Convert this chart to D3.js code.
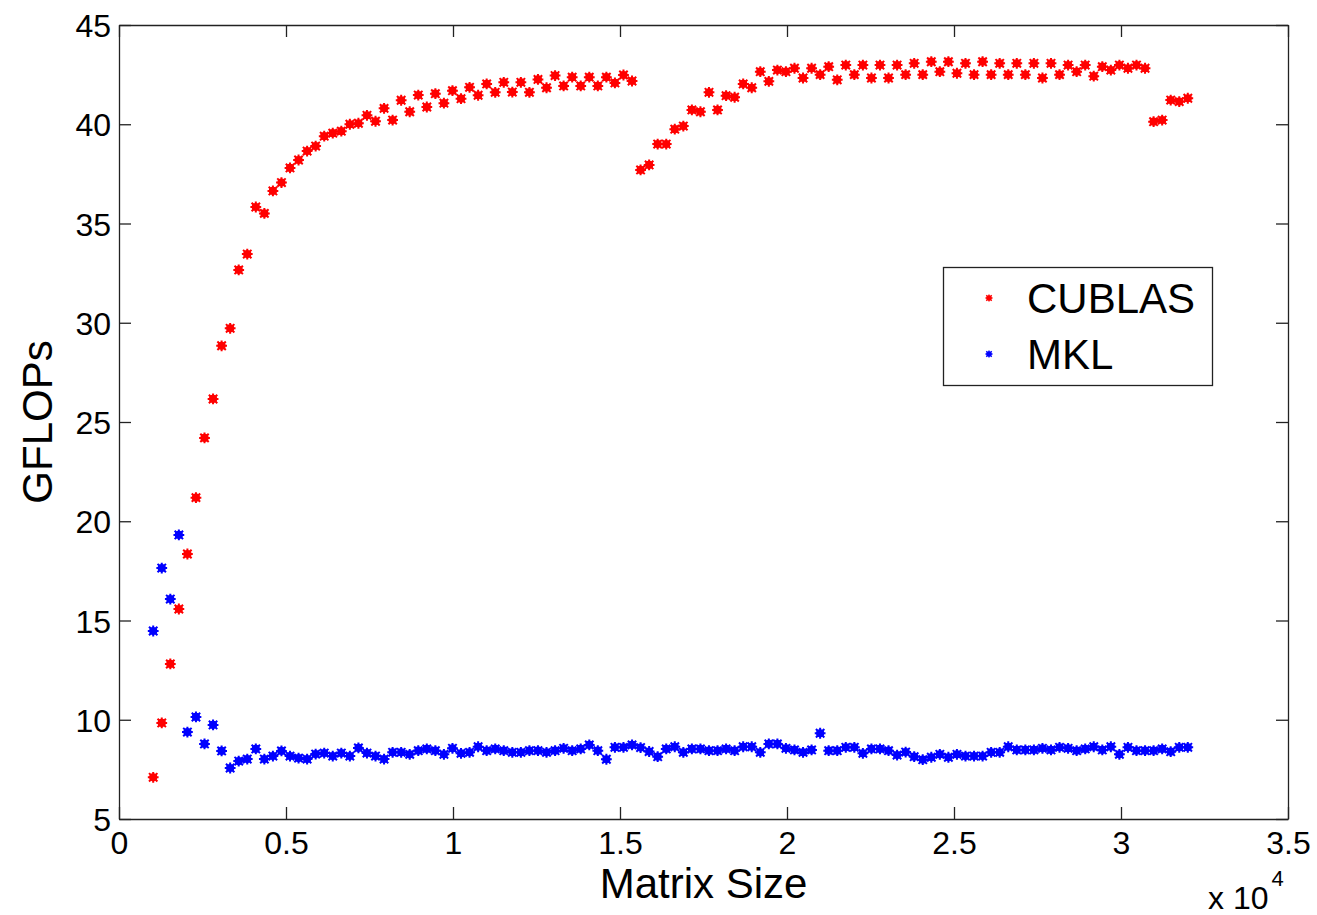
<!DOCTYPE html>
<html>
<head>
<meta charset="utf-8">
<script src="https://cdn.jsdelivr.net/npm/d3@7.9.0/dist/d3.min.js"></script>
<style>
  html, body { margin: 0; padding: 0; background: #fff; }
  svg { display: block; font-family: "Liberation Sans", Arial, sans-serif; }
</style>
</head>
<body>
<svg id="chart" width="1317" height="915"></svg>
<script>
// matrix sizes (N), one sample every 256 from 1024 to 32000
const sizes = [
  1024, 1280, 1536, 1792, 2048, 2304, 2560, 2816, 3072, 3328, 3584, 3840,
  4096, 4352, 4608, 4864, 5120, 5376, 5632, 5888, 6144, 6400, 6656, 6912,
  7168, 7424, 7680, 7936, 8192, 8448, 8704, 8960, 9216, 9472, 9728, 9984,
  10240, 10496, 10752, 11008, 11264, 11520, 11776, 12032, 12288, 12544, 12800, 13056,
  13312, 13568, 13824, 14080, 14336, 14592, 14848, 15104, 15360, 15616, 15872, 16128,
  16384, 16640, 16896, 17152, 17408, 17664, 17920, 18176, 18432, 18688, 18944, 19200,
  19456, 19712, 19968, 20224, 20480, 20736, 20992, 21248, 21504, 21760, 22016, 22272,
  22528, 22784, 23040, 23296, 23552, 23808, 24064, 24320, 24576, 24832, 25088, 25344,
  25600, 25856, 26112, 26368, 26624, 26880, 27136, 27392, 27648, 27904, 28160, 28416,
  28672, 28928, 29184, 29440, 29696, 29952, 30208, 30464, 30720, 30976, 31232, 31488,
  31744, 32000
];

const cublas = [
  7.1, 9.84, 12.81, 15.58, 18.35, 21.19, 24.2, 26.16, 28.84, 29.72, 32.66, 33.46,
  35.83, 35.51, 36.64, 37.06, 37.8, 38.2, 38.65, 38.9, 39.4, 39.55, 39.65, 40.0,
  40.05, 40.45, 40.15, 40.8, 40.21, 41.21, 40.63, 41.47, 40.87, 41.54, 41.06, 41.69,
  41.29, 41.86, 41.46, 42.03, 41.61, 42.11, 41.62, 42.11, 41.61, 42.26, 41.84, 42.45,
  41.93, 42.37, 41.93, 42.37, 41.93, 42.37, 42.08, 42.48, 42.18, 37.7, 37.95, 39.0,
  39.0, 39.75, 39.91, 40.72, 40.63, 41.61, 40.72, 41.44, 41.36, 42.03, 41.84, 42.65,
  42.16, 42.73, 42.65, 42.82, 42.33, 42.82, 42.5, 42.9, 42.24, 42.98, 42.5, 42.98,
  42.33, 42.98, 42.33, 42.98, 42.5, 43.07, 42.5, 43.15, 42.65, 43.15, 42.57, 43.07,
  42.5, 43.15, 42.5, 43.07, 42.5, 43.07, 42.5, 43.07, 42.33, 43.07, 42.5, 42.98,
  42.65, 42.98, 42.42, 42.9, 42.73, 42.98, 42.82, 42.98, 42.82, 40.13, 40.21, 41.22,
  41.14, 41.31
];

const mkl = [
  14.47, 17.64, 16.08, 19.31, 9.38, 10.14, 8.78, 9.74, 8.43, 7.57, 7.92, 8.02,
  8.53, 8.02, 8.17, 8.43, 8.17, 8.07, 8.02, 8.27, 8.32, 8.17, 8.32, 8.17,
  8.58, 8.32, 8.17, 8.02, 8.36, 8.36, 8.26, 8.44, 8.53, 8.44, 8.26, 8.56,
  8.31, 8.36, 8.64, 8.44, 8.53, 8.44, 8.36, 8.36, 8.44, 8.44, 8.36, 8.44,
  8.56, 8.44, 8.53, 8.73, 8.44, 8.01, 8.61, 8.61, 8.73, 8.6, 8.4, 8.14,
  8.53, 8.64, 8.36, 8.53, 8.53, 8.44, 8.44, 8.53, 8.44, 8.64, 8.64, 8.36,
  8.78, 8.78, 8.56, 8.48, 8.36, 8.48, 9.32, 8.44, 8.44, 8.61, 8.61, 8.31,
  8.53, 8.53, 8.44, 8.22, 8.37, 8.14, 7.99, 8.11, 8.26, 8.11, 8.26, 8.17,
  8.17, 8.17, 8.36, 8.36, 8.64, 8.48, 8.48, 8.48, 8.56, 8.48, 8.61, 8.56,
  8.44, 8.53, 8.64, 8.48, 8.64, 8.26, 8.61, 8.44, 8.44, 8.44, 8.53, 8.39,
  8.61, 8.61
];

const xTicks = [0, 5000, 10000, 15000, 20000, 25000, 30000, 35000];
const xTickLabels = ["0", "0.5", "1", "1.5", "2", "2.5", "3", "3.5"];
const yTicks = [5, 10, 15, 20, 25, 30, 35, 40, 45];

const series = [
  { name: "CUBLAS", values: cublas, color: "#ff0000" },
  { name: "MKL", values: mkl, color: "#0000ff" }
];

const margin = { left: 119, right: 29, top: 25, bottom: 96 };
const width = 1317, height = 915;

const svg = d3.select("#chart");

const x = d3.scaleLinear().domain([0, 35000]).range([margin.left, width - margin.right]);
const y = d3.scaleLinear().domain([5, 45]).range([height - margin.bottom, margin.top]);

const axisColor = "#222";
const tickLen = 12;

// MATLAB-style '*' marker: small blob with spikes
function star(g, cx, cy, color, s) {
  const m = g.append("g").attr("transform", `translate(${cx},${cy})`);
  m.append("circle").attr("r", 4.1 * s).attr("fill", color);
  const d = 5.4 * s, e = 4.2 * s;
  const path = `M${-d},0L${d},0M0,${-d}L0,${d}M${-e},${-e}L${e},${e}M${-e},${e}L${e},${-e}`;
  m.append("path").attr("d", path).attr("stroke", color).attr("stroke-width", 2 * s).attr("fill", "none");
}

// points
const plot = svg.append("g");
series.forEach(sr => {
  sr.values.forEach((v, i) => star(plot, x(sizes[i]), y(v), sr.color, 1));
});

// axes frame
const gx = svg.append("g")
  .attr("transform", `translate(0,${y(5)})`)
  .call(d3.axisBottom(x).tickValues(xTicks).tickFormat((d, i) => xTickLabels[i]).tickSizeInner(-tickLen).tickSizeOuter(0));
const gy = svg.append("g")
  .attr("transform", `translate(${x(0)},0)`)
  .call(d3.axisLeft(y).tickValues(yTicks).tickSizeInner(-tickLen).tickSizeOuter(0));
const gxTop = svg.append("g")
  .attr("transform", `translate(0,${y(45)})`)
  .call(d3.axisTop(x).tickValues(xTicks).tickFormat("").tickSizeInner(-tickLen).tickSizeOuter(0));
const gyRight = svg.append("g")
  .attr("transform", `translate(${x(35000)},0)`)
  .call(d3.axisRight(y).tickValues(yTicks).tickFormat("").tickSizeInner(-tickLen).tickSizeOuter(0));

[gx, gy, gxTop, gyRight].forEach(g => {
  g.select(".domain").attr("stroke", axisColor).attr("stroke-width", 1.3);
  g.selectAll(".tick line").attr("stroke", axisColor).attr("stroke-width", 1.3);
  g.selectAll(".tick text").attr("fill", "#000").style("font-size", "32px")
    .style("font-family", "'Liberation Sans', Arial, sans-serif");
});
gy.selectAll(".tick text").attr("x", -8).attr("dy", "0.36em");
gx.selectAll(".tick text").attr("y", 12).attr("dy", "0.71em");

// axis labels
svg.append("text")
  .attr("x", (x(0) + x(35000)) / 2).attr("y", 898)
  .attr("text-anchor", "middle").style("font-size", "42px")
  .text("Matrix Size");

svg.append("text")
  .attr("transform", `translate(52,${(y(5) + y(45)) / 2}) rotate(-90)`)
  .attr("text-anchor", "middle").style("font-size", "42px")
  .text("GFLOPs");

// exponent label
const ex = svg.append("text").attr("x", 1208).attr("y", 909).style("font-size", "32px");
ex.append("tspan").text("x 10");
ex.append("tspan").attr("dy", -23).attr("dx", 3).style("font-size", "22px").text("4");

// legend
const lg = svg.append("g");
lg.append("rect")
  .attr("x", 943.5).attr("y", 267.5).attr("width", 269).attr("height", 118)
  .attr("fill", "#fff").attr("stroke", axisColor).attr("stroke-width", 1.3);
series.forEach((sr, i) => {
  const cy = 298 + i * 56;
  star(lg, 989, cy, sr.color, 0.65);
  lg.append("text").attr("x", 1027).attr("y", cy + 15)
    .style("font-size", "42px").text(sr.name);
});
</script>
</body>
</html>
